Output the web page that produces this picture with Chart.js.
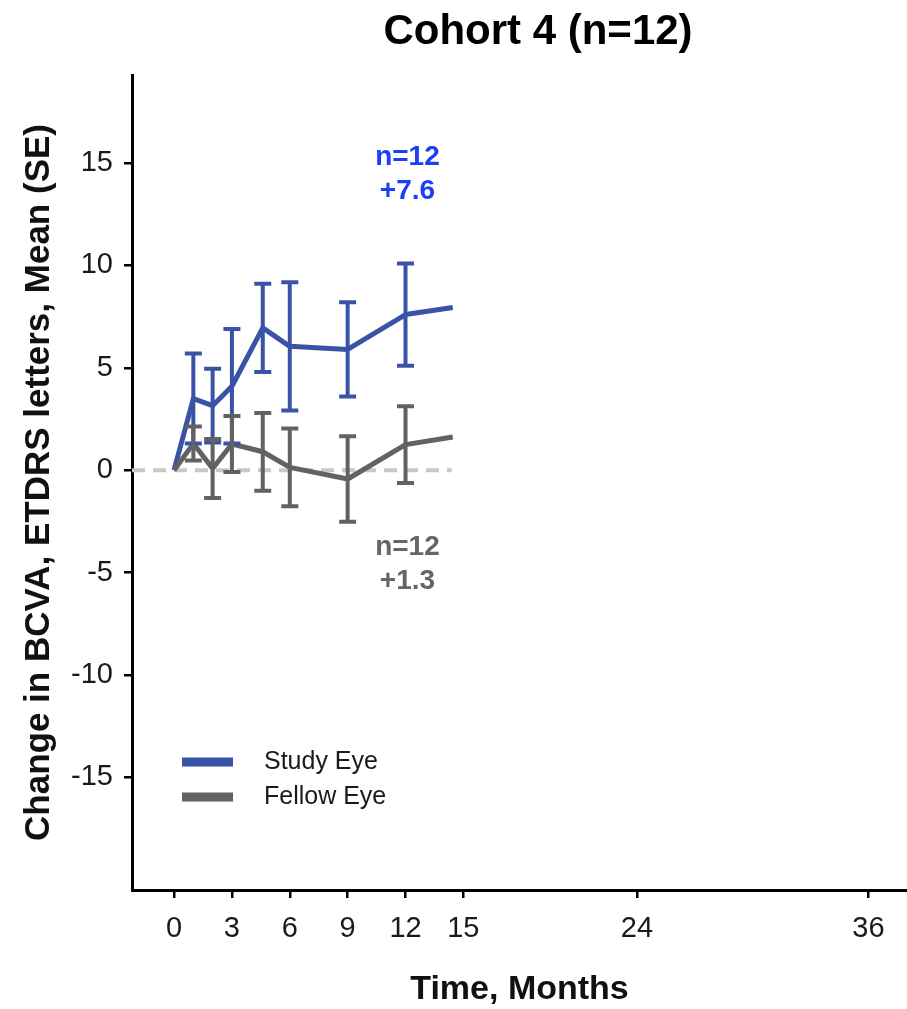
<!DOCTYPE html>
<html>
<head>
<meta charset="utf-8">
<script src="https://cdn.jsdelivr.net/npm/chart.js@4.4.1/dist/chart.umd.min.js"></script>
<style>
  html, body { margin: 0; padding: 0; background: #fff; }
  #wrap { width: 907px; height: 1009px; position: relative; }
</style>
</head>
<body>
<div id="wrap"><canvas id="myChart"></canvas></div>
<script>
(() => {
  'use strict'

  // Data
  const months = [0, 1, 2, 3, 4.6, 6, 9, 12, 14.45];
  const studyMean = [0, 3.5, 3.15, 4.1, 6.95, 6.05, 5.9, 7.6, 7.95];
  const studySE = [0, 2.2, 1.8, 2.8, 2.15, 3.13, 2.3, 2.5, null];
  const fellowMean = [0, 1.3, 0.08, 1.28, 0.9, 0.14, -0.43, 1.25, 1.62];
  const fellowSE = [0, 0.83, 1.44, 1.37, 1.9, 1.9, 2.09, 1.87, null];
  const refLine = [[-2.18, 0], [14.4, 0]];
  const xTicks = [0, 3, 6, 9, 12, 15, 24, 36];
  const yTicks = [-15, -10, -5, 0, 5, 10, 15];
  const seriesNames = ['Study Eye', 'Fellow Eye'];
  const notes = [
    {x: 12.1, y: [15.3, 13.6], text: ['n=12', '+7.6'], color: '#1a3ff5'},
    {x: 12.1, y: [-3.75, -5.4], text: ['n=12', '+1.3'], color: '#666666'}
  ];

  const BLUE = '#3a53a6';
  const GREY = '#626262';
  const FONT = "'Liberation Sans', Arial, sans-serif";

  const toPoints = (xs, ys) => xs.map((v, i) => ({x: v, y: ys[i]}));

  const errorBars = {
    id: 'errorBars',
    afterDatasetsDraw(chart) {
      const {ctx, scales: {x, y}} = chart;
      const sets = [[studyMean, studySE, BLUE], [fellowMean, fellowSE, GREY]];
      ctx.save();
      ctx.lineCap = 'butt';
      sets.forEach(([mean, se, color]) => {
        ctx.strokeStyle = color;
        ctx.lineWidth = 4;
        months.forEach((m, i) => {
          if (!se[i]) return;
          const px = x.getPixelForValue(m);
          const top = y.getPixelForValue(mean[i] + se[i]);
          const bot = y.getPixelForValue(mean[i] - se[i]);
          ctx.beginPath();
          ctx.moveTo(px, top); ctx.lineTo(px, bot);
          ctx.moveTo(px - 8.5, top); ctx.lineTo(px + 8.5, top);
          ctx.moveTo(px - 8.5, bot); ctx.lineTo(px + 8.5, bot);
          ctx.stroke();
        });
      });
      ctx.restore();
    }
  };

  const extras = {
    id: 'extras',
    afterDraw(chart) {
      const {ctx, chartArea, scales: {x, y}} = chart;
      ctx.save();
      // title
      ctx.fillStyle = '#000';
      ctx.font = 'bold 42px ' + FONT;
      ctx.textAlign = 'center';
      ctx.textBaseline = 'alphabetic';
      ctx.fillText('Cohort 4 (n=12)', 538, 44);

      // n / change labels
      ctx.font = 'bold 28px ' + FONT;
      ctx.textBaseline = 'middle';
      notes.forEach(n => {
        ctx.fillStyle = n.color;
        n.text.forEach((t, i) => ctx.fillText(t, x.getPixelForValue(n.x), y.getPixelForValue(n.y[i])));
      });

      // legend
      const colors = [BLUE, GREY];
      ctx.font = '25px ' + FONT;
      ctx.textAlign = 'left';
      seriesNames.forEach((name, i) => {
        const cy = 762 + i * 35;
        ctx.fillStyle = colors[i];
        ctx.fillRect(chartArea.left + 50, cy - 4.5, 51, 9);
        ctx.fillStyle = '#1a1a1a';
        ctx.fillText(name, chartArea.left + 132, cy);
      });
      ctx.restore();
    }
  };

  const ctx = document.getElementById('myChart');

  new Chart(ctx, {
    type: 'line',
    data: {
      datasets: [
        {
          label: 'zero',
          data: refLine.map(p => ({x: p[0], y: p[1]})),
          borderColor: '#c8c8c8',
          borderWidth: 4,
          borderDash: [13, 8],
          pointRadius: 0,
          order: 3
        },
        {
          label: seriesNames[0],
          data: toPoints(months, studyMean),
          borderColor: BLUE,
          borderWidth: 5,
          borderJoinStyle: 'round',
          pointRadius: 0,
          tension: 0,
          order: 2
        },
        {
          label: seriesNames[1],
          data: toPoints(months, fellowMean),
          borderColor: GREY,
          borderWidth: 5,
          borderJoinStyle: 'round',
          pointRadius: 0,
          tension: 0,
          order: 1
        }
      ]
    },
    options: {
      responsive: true,
      maintainAspectRatio: false,
      animation: false,
      layout: {padding: {top: 75, left: 0, right: 0, bottom: 0}},
      scales: {
        x: {
          type: 'linear',
          min: -2.18,
          max: 38,
          afterBuildTicks: s => { s.ticks = xTicks.map(v => ({value: v})); },
          afterFit: s => { s.height = 119; },
          grid: {drawOnChartArea: false, drawTicks: true, tickLength: 8, color: '#000', lineWidth: 2.5},
          border: {display: true, color: '#000', width: 3},
          ticks: {color: '#1a1a1a', padding: 14, font: {family: FONT, size: 29}, maxRotation: 0, autoSkip: false},
          title: {
            display: true,
            text: 'Time, Months',
            color: '#111',
            font: {family: FONT, size: 34, weight: 'bold', lineHeight: 1.15},
            padding: {top: 0, bottom: 0}
          }
        },
        y: {
          type: 'linear',
          min: -20.5,
          max: 19.3,
          afterBuildTicks: s => { s.ticks = yTicks.map(v => ({value: v})); },
          afterFit: s => { s.width = 132; },
          grid: {drawOnChartArea: false, drawTicks: true, tickLength: 8, color: '#000', lineWidth: 2.5},
          border: {display: true, color: '#000', width: 3},
          ticks: {color: '#1a1a1a', padding: 11, font: {family: FONT, size: 29}, autoSkip: false},
          title: {
            display: true,
            text: 'Change in BCVA, ETDRS letters, Mean (SE)',
            color: '#111',
            font: {family: FONT, size: 35, weight: 'bold', lineHeight: 1.2},
            padding: {top: 18, bottom: 0}
          }
        }
      },
      plugins: {
        legend: {display: false},
        tooltip: {enabled: false},
        title: {display: false}
      }
    },
    plugins: [errorBars, extras]
  });
})()
</script>
</body>
</html>
